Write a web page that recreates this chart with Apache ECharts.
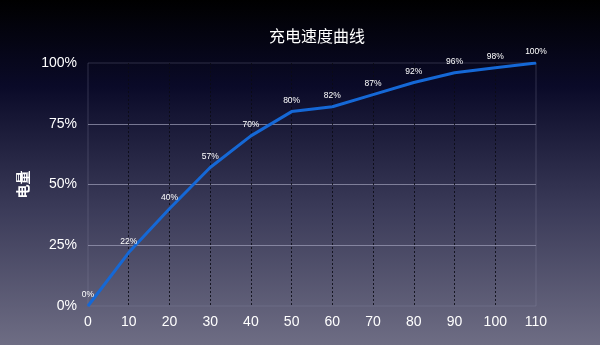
<!DOCTYPE html>
<html>
<head>
<meta charset="utf-8">
<script src="https://cdn.jsdelivr.net/npm/echarts@6/dist/echarts.min.js"></script>
<style>
html, body { margin: 0; padding: 0; }
#chart { width: 600px; height: 345px; }
</style>
</head>
<body>
<div id="chart"></div>
<script>
var minutes = [0, 10, 20, 30, 40, 50, 60, 70, 80, 90, 100, 110];
var battery = [0, 22, 40, 57, 70, 80, 82, 87, 92, 96, 98, 100];

var points = minutes.map(function (m, i) { return [m, battery[i]]; });

var option = {
    backgroundColor: {
        type: 'linear', x: 0, y: 0, x2: 0, y2: 1,
        colorStops: [
            { offset: 0, color: '#000000' },
            { offset: 0.25, color: '#0a0a28' },
            { offset: 0.6, color: '#3a3a58' },
            { offset: 1, color: '#6e6d84' }
        ]
    },
    title: {
        text: '充电速度曲线',
        left: 312,
        textAlign: 'center',
        top: 23,
        textStyle: {
            color: '#ffffff',
            fontSize: 16,
            fontWeight: 'normal',
            fontFamily: 'Noto Sans CJK SC'
        }
    },
    grid: {
        left: 88,
        right: 64,
        top: 63,
        bottom: 39,
        show: true,
        borderColor: 'rgba(140,140,170,0.3)',
        borderWidth: 1
    },
    xAxis: {
        type: 'value',
        min: 0,
        max: 110,
        interval: 10,
        axisLine: { show: false },
        axisTick: { show: false },
        axisLabel: {
            color: '#ffffff',
            fontSize: 14,
            margin: 9,
            fontFamily: 'Liberation Sans'
        },
        splitLine: {
            show: true,
            showMinLine: false,
            showMaxLine: false,
            lineStyle: { color: 'rgba(10,10,20,0.85)', type: [2, 2], width: 1 }
        }
    },
    yAxis: {
        type: 'value',
        min: 0,
        max: 100,
        interval: 25,
        name: '电量',
        nameLocation: 'middle',
        nameGap: 58,
        nameTextStyle: {
            color: '#ffffff',
            fontSize: 14,
            fontWeight: 'bold',
            fontFamily: 'Noto Sans CJK SC'
        },
        axisLine: { show: false },
        axisTick: { show: false },
        axisLabel: {
            color: '#ffffff',
            fontSize: 14,
            margin: 11,
            fontFamily: 'Liberation Sans',
            formatter: '{value}%'
        },
        splitLine: {
            show: true,
            showMinLine: false,
            showMaxLine: false,
            lineStyle: { color: 'rgba(160,160,185,0.7)', width: 1 }
        }
    },
    series: [
        {
            type: 'line',
            data: points,
            showSymbol: true,
            symbol: 'circle',
            symbolSize: 1,
            lineStyle: { color: '#1568d6', width: 3 },
            itemStyle: { color: '#1568d6' },
            label: {
                show: true,
                position: 'top',
                distance: 6,
                color: '#ffffff',
                fontSize: 8.5,
                fontFamily: 'Liberation Sans',
                formatter: function (p) { return p.value[1] + '%'; }
            }
        }
    ]
};

var myChart = echarts.init(document.getElementById('chart'));
myChart.setOption(option);
</script>
</body>
</html>
